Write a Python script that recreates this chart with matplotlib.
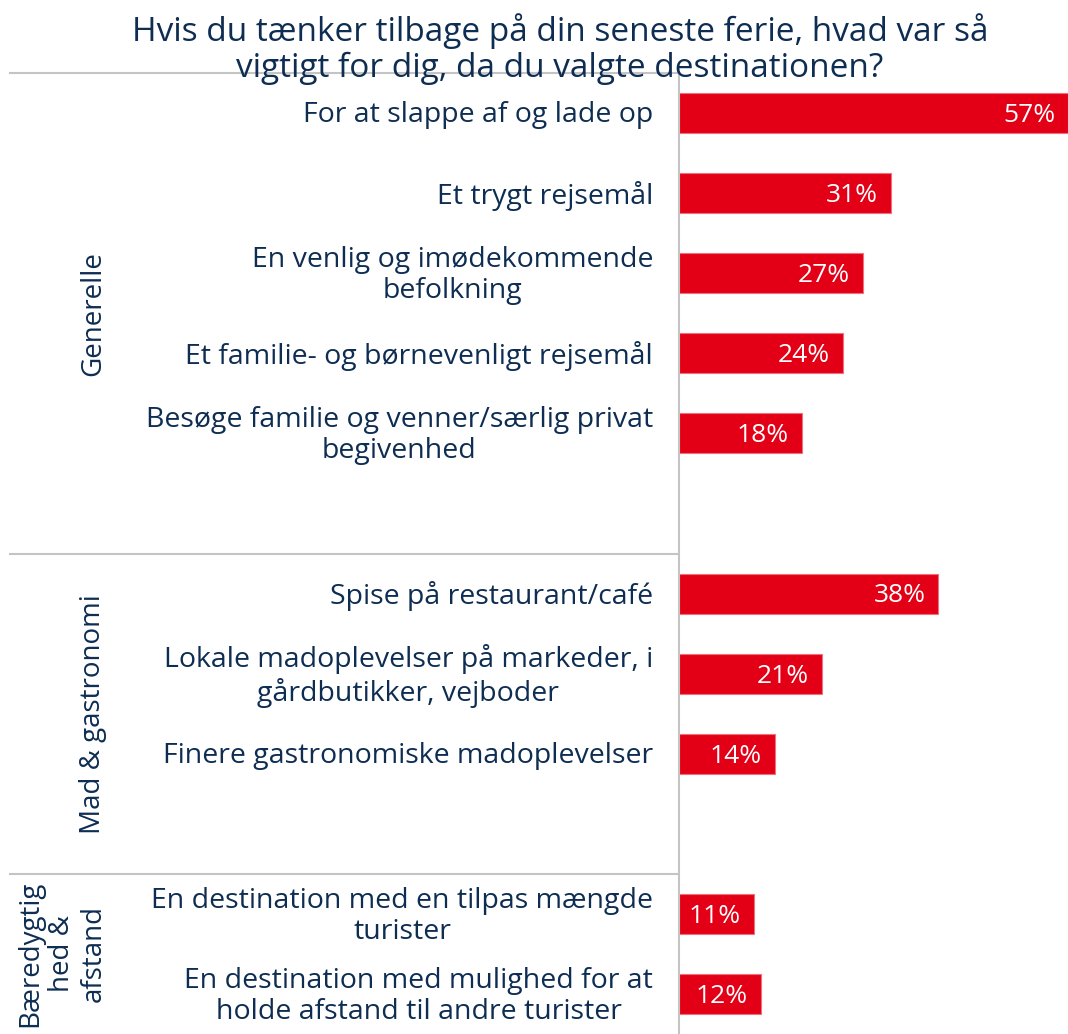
import matplotlib
matplotlib.use("Agg")
import matplotlib.pyplot as plt
import matplotlib.transforms as mtransforms

plt.rcParams['font.family'] = ['Open Sans', 'DejaVu Sans']

# Data
labels = [
    "For at slappe af og lade op",
    "Et trygt rejsemål",
    "En venlig og imødekommende\nbefolkning",
    "Et familie- og børnevenligt rejsemål",
    "Besøge familie og venner/særlig privat\nbegivenhed",
    "",
    "Spise på restaurant/café",
    "Lokale madoplevelser på markeder, i\ngårdbutikker, vejboder",
    "Finere gastronomiske madoplevelser",
    "",
    "En destination med en tilpas mængde\nturister",
    "En destination med mulighed for at\nholde afstand til andre turister",
]
values = [57, 31, 27, 24, 18, None, 38, 21, 14, None, 11, 12]
groups = ["Generelle", "Mad & gastronomi", "Bæredygtig\nhed &\nafstand"]
group_spans = [(0, 5), (6, 9), (10, 11)]

title = "Hvis du tænker tilbage på din seneste ferie, hvad var så\nvigtigt for dig, da du valgte destinationen?"

red = "#E30016"
navy = "#0E2D52"
gray = "#C4C4C4"

W, H = 1068, 1034
fig = plt.figure(figsize=(W / 100, H / 100), dpi=100)
ax = fig.add_axes([679 / W, 0, 1 - 679 / W, 1 - 73 / H])

ys = [i for i, v in enumerate(values) if v is not None]
vs = [v for v in values if v is not None]
ax.barh(ys, vs, height=0.5, color=red, edgecolor="#F07080", linewidth=0.8)
for y, v in zip(ys, vs):
    ax.text(v - 1.9, y + 0.03, f"{v}%", ha="right", va="center", color="white", fontsize=19)

ax.set_xlim(0, 57)
ax.set_ylim(11.5, -0.5)
ax.set_xticks([])
ax.set_yticks([])
for s in ["top", "right", "bottom"]:
    ax.spines[s].set_visible(False)
ax.spines["left"].set_color(gray)
ax.spines["left"].set_linewidth(1.5)

trans = mtransforms.blended_transform_factory(fig.transFigure, ax.transData)
for i, lab in enumerate(labels):
    if lab:
        ax.text(653 / W, i + 0.03, lab, transform=trans, ha="right", va="center",
                multialignment="center", color=navy, fontsize=20.5, linespacing=1.15)

# separators
for yb in [-0.5, 5.5, 9.5]:
    ax.plot([10 / W, 678 / W], [yb, yb], transform=trans, color=gray,
            linewidth=1.5, clip_on=False, zorder=1)

# group labels
gx = [93, 93, 62]
for g, (a, b), x in zip(groups, group_spans, gx):
    ax.text(x / W, (a + b + 1) / 2 - 0.5 if g != groups[2] else 10.5, g, transform=trans,
            rotation=90, ha="center", va="center", multialignment="center",
            color=navy, fontsize=20, linespacing=1.2)

fig.text(560 / W, 1 - 49 / H, title, ha="center", va="center", color=navy,
         fontsize=24, linespacing=1.12, zorder=10)

fig.savefig("out.png", dpi=100)
